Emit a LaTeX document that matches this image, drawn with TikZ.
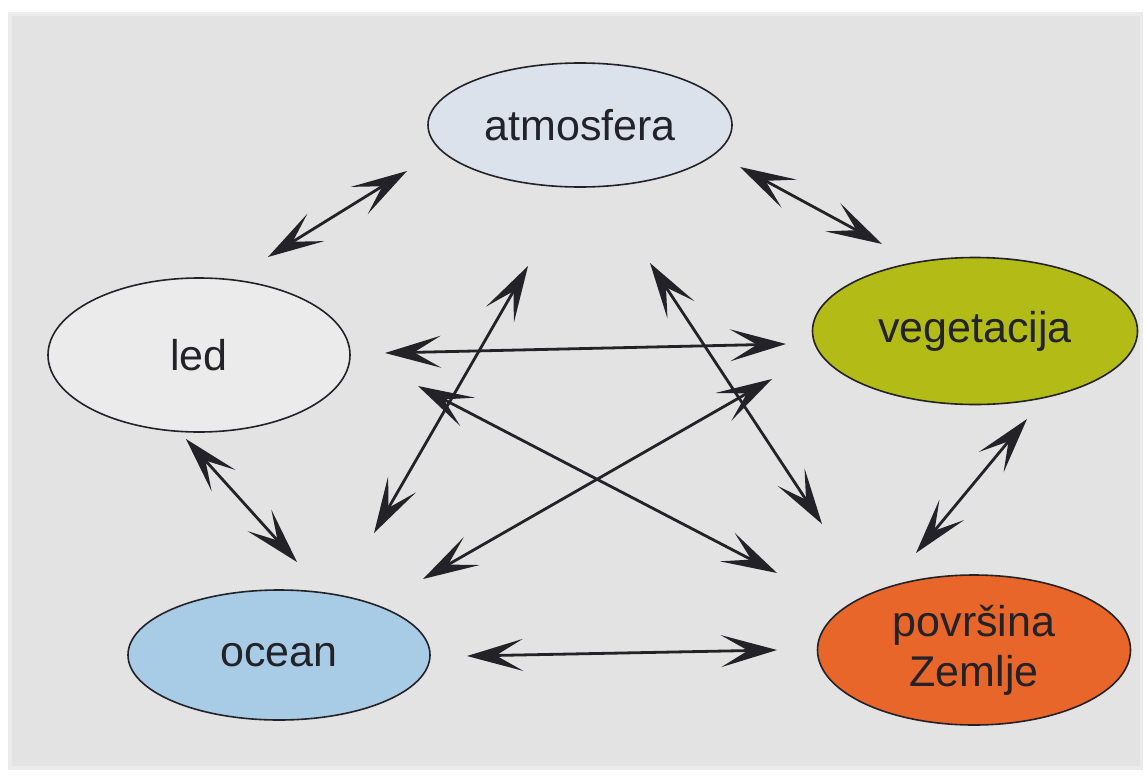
\documentclass[tikz,border=0pt]{standalone}
\usepackage{fontspec}
\setmainfont{Liberation Sans}
\usetikzlibrary{shapes.geometric,arrows.meta}
\definecolor{bg}{HTML}{E3E3E3}
\definecolor{atmo}{HTML}{DCE2EC}
\definecolor{ledc}{HTML}{EBEBEB}
\definecolor{veg}{HTML}{B3BC17}
\definecolor{oce}{HTML}{A8CBE6}
\definecolor{pov}{HTML}{E8662A}
\definecolor{ink}{HTML}{222228}
\tikzset{
  bubble/.style={ellipse, draw=ink, line width=1.6pt, inner sep=0pt, align=center,
    font=\fontsize{43}{50}\selectfont, text=ink},
  link/.style={ink, line width=2.8pt, {Stealth[length=56pt,width=32pt,inset=27pt]}-{Stealth[length=56pt,width=32pt,inset=27pt]}}
}
\begin{document}
\begin{tikzpicture}[x=1pt,y=-1pt]
\useasboundingbox (0,0) rectangle (1147,776);
\fill[white] (0,0) rectangle (1147,776);
\fill[black!8] (8,12) rectangle (1143,770);
\fill[bg] (12,16) rectangle (1140,766);

\node[bubble, fill=atmo, minimum width=304pt, minimum height=124pt] (atm) at (580,125) {atmosfera};
\node[bubble, fill=ledc, minimum width=302pt, minimum height=154pt] (led) at (199,355) {led};
\node[bubble, fill=veg, minimum width=325pt, minimum height=147pt] (veg) at (975,331) {vegetacija};
\node[bubble, fill=oce, minimum width=302pt, minimum height=130pt] (oce) at (279,655) {ocean};
\node[bubble, fill=pov, minimum width=313pt, minimum height=150pt] (pov) at (974,650) {površina\\Zemlje};

% arrow end points
\coordinate (atmL) at (407,171);  \coordinate (ledT) at (268,257);
\coordinate (atmR) at (740,167);  \coordinate (vegT) at (882,244);
\coordinate (ledR) at (385,353);  \coordinate (vegL) at (786,344);
\coordinate (ledD) at (418,386);  \coordinate (povX) at (777,573);
\coordinate (oceX) at (423,579);  \coordinate (vegX) at (772,379);
\coordinate (atmX) at (528,266);  \coordinate (oceT) at (374,533);
\coordinate (atmY) at (650,263);  \coordinate (povT) at (822,524);
\coordinate (ledB) at (186,439);  \coordinate (oceL) at (297,562);
\coordinate (vegB) at (1027,419); \coordinate (povR) at (916,553);
\coordinate (oceR) at (467,656);  \coordinate (povL) at (777,650);

\draw[link] (atmL) -- (ledT);
\draw[link] (atmR) -- (vegT);
\draw[link] (ledR) -- (vegL);
\draw[link] (ledD) -- (povX);
\draw[link] (oceX) -- (vegX);
\draw[link] (atmX) -- (oceT);
\draw[link] (atmY) -- (povT);
\draw[link] (ledB) -- (oceL);
\draw[link] (vegB) -- (povR);
\draw[link] (oceR) -- (povL);
\end{tikzpicture}
\end{document}
